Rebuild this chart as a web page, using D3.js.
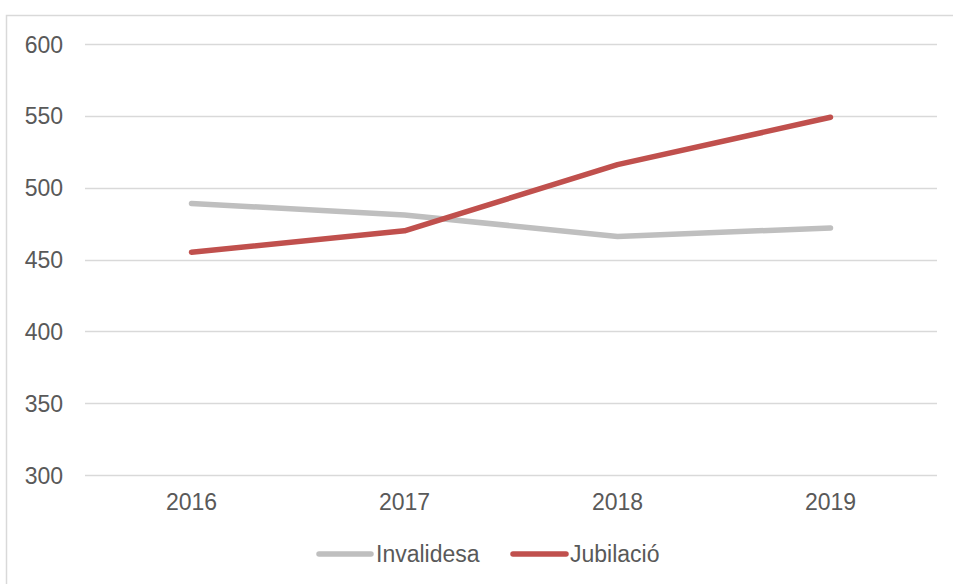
<!DOCTYPE html>
<html>
<head>
<meta charset="utf-8">
<script src="https://cdn.jsdelivr.net/npm/d3@7"></script>
<style>
  html, body { margin: 0; padding: 0; background: #fff; }
  svg { display: block; }
  text { font-family: "Liberation Sans", Arial, sans-serif; fill: #595959; }
</style>
</head>
<body>
<svg id="chart" width="953" height="584"></svg>
<script>
const years = ["2016", "2017", "2018", "2019"];
const invalidesa = [489, 481, 466, 472];
const jubilacio = [455, 470, 516, 549];
const yTicks = [300, 350, 400, 450, 500, 550, 600];
const seriesNames = ["Invalidesa", "Jubilació"];
const seriesColors = ["#BFBFBF", "#C0504D"];

const svg = d3.select("#chart");
const W = 953, H = 584;

// outer chart border
svg.append("rect")
  .attr("x", 6.5).attr("y", 15.5)
  .attr("width", 960).attr("height", 620)
  .attr("fill", "none").attr("stroke", "#D9D9D9").attr("stroke-width", 1.5);

const plot = { left: 85, right: 937, top: 44, bottom: 475 };

const x = d3.scaleBand().domain(years).range([plot.left, plot.right]);
const y = d3.scaleLinear().domain([300, 600]).range([plot.bottom, plot.top]);

// gridlines
svg.append("g").selectAll("line").data(yTicks).join("line")
  .attr("x1", plot.left).attr("x2", plot.right)
  .attr("y1", d => Math.round(y(d)) + 0.5).attr("y2", d => Math.round(y(d)) + 0.5)
  .attr("stroke", "#D9D9D9").attr("stroke-width", 1.5);

// y axis labels
const yAxis = d3.axisLeft(y).tickValues(yTicks).tickSize(0).tickPadding(0);
const gy = svg.append("g").attr("transform", `translate(${plot.left - 22},0)`).call(yAxis);
gy.select(".domain").remove();
gy.selectAll("text").style("font-size", "23px").attr("fill", "#595959")
  .attr("font-family", "'Liberation Sans', Arial, sans-serif").attr("dy", "0.35em");

// x axis labels
const xAxis = d3.axisBottom(x).tickSize(0).tickPadding(0);
const gx = svg.append("g").attr("transform", `translate(0,${plot.bottom + 19})`).call(xAxis);
gx.select(".domain").remove();
gx.selectAll("text").style("font-size", "23px").attr("fill", "#595959")
  .attr("font-family", "'Liberation Sans', Arial, sans-serif").attr("dy", "0.71em");

// lines
const line = d3.line().x((d, i) => x(years[i]) + x.bandwidth() / 2).y(d => y(d));
[invalidesa, jubilacio].forEach((vals, k) => {
  svg.append("path").datum(vals)
    .attr("d", line)
    .attr("fill", "none")
    .attr("stroke", seriesColors[k])
    .attr("stroke-width", 5.5)
    .attr("stroke-linecap", "round")
    .attr("stroke-linejoin", "round");
});

// legend
const legendY = 554;
const legendItems = [
  { name: seriesNames[0], color: seriesColors[0], x1: 319, x2: 371, tx: 376 },
  { name: seriesNames[1], color: seriesColors[1], x1: 513, x2: 566, tx: 570 }
];
const lg = svg.append("g");
legendItems.forEach(it => {
  lg.append("line").attr("x1", it.x1).attr("x2", it.x2)
    .attr("y1", legendY).attr("y2", legendY)
    .attr("stroke", it.color).attr("stroke-width", 5.5).attr("stroke-linecap", "round");
  lg.append("text").attr("x", it.tx).attr("y", legendY).attr("dy", "0.35em")
    .style("font-size", "23px").text(it.name);
});
</script>
</body>
</html>
